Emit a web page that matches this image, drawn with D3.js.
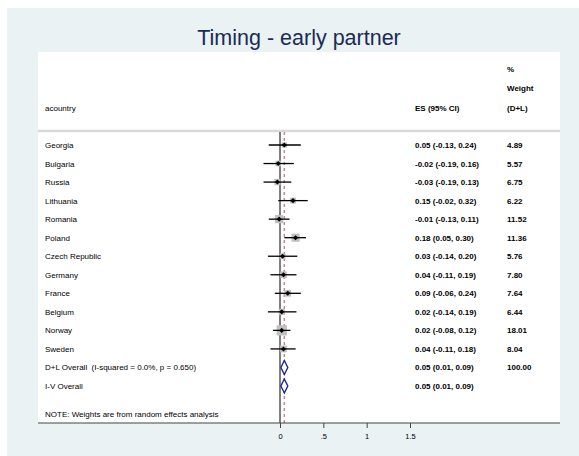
<!DOCTYPE html>
<html><head><meta charset="utf-8">
<script src="https://cdn.jsdelivr.net/npm/d3@7"></script>
<style>body{margin:0;background:#fff}svg{display:block;font-family:"Liberation Sans",Arial,sans-serif}</style>
</head><body>
<script>
const countries = ["Georgia","Bulgaria","Russia","Lithuania","Romania","Poland","Czech Republic","Germany","France","Belgium","Norway","Sweden"];
const es    = [0.05,-0.02,-0.03,0.15,-0.01,0.18,0.03,0.04,0.09,0.02,0.02,0.04];
const lower = [-0.13,-0.19,-0.19,-0.02,-0.13,0.05,-0.14,-0.11,-0.06,-0.14,-0.08,-0.11];
const upper = [0.24,0.16,0.13,0.32,0.11,0.30,0.20,0.19,0.24,0.19,0.12,0.18];
const weights = ["4.89","5.57","6.75","6.22","11.52","11.36","5.76","7.80","7.64","6.44","18.01","8.04"];
const overallLabels = ["D+L Overall  (I-squared = 0.0%, p = 0.650)","I-V Overall"];
const overallES = [0.05,0.05];
const overallLo = [0.01,0.01];
const overallHi = [0.09,0.09];
const overallW = ["100.00",""];
const xTicks = [0,0.5,1,1.5];
const xTickLabels = ["0",".5","1","1.5"];
const title = "Timing - early partner";
const note = "NOTE: Weights are from random effects analysis";

const W=579,H=456;
const svg=d3.select("body").append("svg").attr("width",W).attr("height",H);
svg.append("rect").attr("x",7).attr("y",8).attr("width",W-7).attr("height",H-8).attr("fill","#eaf2f3");
const pl=38,pr=560,pt=52,pb=423;
svg.append("rect").attr("x",pl).attr("y",pt).attr("width",pr-pl).attr("height",pb-pt).attr("fill","#fff");

svg.append("text").attr("x",299).attr("y",45).attr("text-anchor","middle").attr("font-size",21.5).attr("fill","#1c2b55").text(title);

const x=d3.scaleLinear().domain([0,1.5]).range([280,410]);
const nRows=countries.length+overallLabels.length;
const y=d3.scalePoint().domain(d3.range(nRows)).range([145,386]);

const labX=45, esX=415, wX=507, fs=8;
const hdr=svg.append("g").attr("font-size",fs);
hdr.append("text").attr("x",labX).attr("y",111).text("acountry");
hdr.append("text").attr("x",esX).attr("y",111).attr("font-weight","bold").text("ES (95% CI)");
hdr.append("text").attr("x",wX).attr("y",72).attr("font-weight","bold").text("%");
hdr.append("text").attr("x",wX).attr("y",91).attr("font-weight","bold").text("Weight");
hdr.append("text").attr("x",wX).attr("y",111).attr("font-weight","bold").text("(D+L)");
svg.append("line").attr("x1",pl).attr("x2",pr).attr("y1",131).attr("y2",131).attr("stroke","#d9d9d9").attr("stroke-width",2.5);

svg.append("line").attr("x1",x(0)).attr("x2",x(0)).attr("y1",132).attr("y2",pb).attr("stroke","#000").attr("stroke-width",1);
svg.append("line").attr("x1",x(overallES[0])).attr("x2",x(overallES[0])).attr("y1",132).attr("y2",pb)
  .attr("stroke","#c28890").attr("stroke-width",1.5).attr("stroke-dasharray","3,3");

const f2=d3.format(".2f");
const fmt=v=>f2(v).replace("\u2212","-");
const rows=countries.map((c,i)=>({c,es:es[i],lo:lower[i],hi:upper[i],w:weights[i],i}));
const g=svg.append("g");
rows.forEach(d=>{
  const yy=y(d.i);
  const s=2.4*Math.sqrt(+d.w);
  g.append("rect").attr("x",x(d.es)-s/2).attr("y",yy-s/2).attr("width",s).attr("height",s).attr("fill","#bfbfbf");
  g.append("line").attr("x1",x(d.lo)).attr("x2",x(d.hi)).attr("y1",yy).attr("y2",yy).attr("stroke","#000").attr("stroke-width",1.3);
  g.append("rect").attr("x",x(d.es)-1.8).attr("y",yy-1.8).attr("width",3.6).attr("height",3.6).attr("fill","#000").attr("transform",`rotate(45,${x(d.es)},${yy})`);
  g.append("text").attr("x",labX).attr("y",yy+3).attr("font-size",fs).text(d.c);
  g.append("text").attr("x",esX).attr("y",yy+3).attr("font-size",fs).attr("font-weight","bold").text(`${fmt(d.es)} (${fmt(d.lo)}, ${fmt(d.hi)})`);
  g.append("text").attr("x",wX).attr("y",yy+3).attr("font-size",fs).attr("font-weight","bold").text(d.w);
});
overallLabels.forEach((lab,k)=>{
  const yy=y(countries.length+k);
  const pts=[[x(overallLo[k]),yy],[x(overallES[k]),yy-7],[x(overallHi[k]),yy],[x(overallES[k]),yy+7]];
  g.append("polygon").attr("points",pts.map(p=>p.join(",")).join(" ")).attr("fill","#fff").attr("stroke","#1f2590").attr("stroke-width",1.4);
  g.append("text").attr("x",labX).attr("y",yy+3).attr("font-size",fs).attr("xml:space","preserve").style("white-space","pre").text(lab);
  g.append("text").attr("x",esX).attr("y",yy+3).attr("font-size",fs).attr("font-weight","bold").text(`${fmt(overallES[k])} (${fmt(overallLo[k])}, ${fmt(overallHi[k])})`);
  if(overallW[k]) g.append("text").attr("x",wX).attr("y",yy+3).attr("font-size",fs).attr("font-weight","bold").text(overallW[k]);
});
svg.append("text").attr("x",labX).attr("y",417).attr("font-size",fs).text(note);

svg.append("line").attr("x1",pl).attr("x2",pr).attr("y1",pb).attr("y2",pb).attr("stroke","#444").attr("stroke-width",1.2);
const ax=d3.axisBottom(x).tickValues(xTicks).tickFormat((d,i)=>xTickLabels[i]).tickSize(5).tickPadding(6);
const axg=svg.append("g").attr("transform",`translate(0,${pb})`).call(ax);
axg.select(".domain").remove();
axg.selectAll(".tick line").attr("stroke","#444");
axg.selectAll(".tick text").attr("font-size",7.5).attr("font-family","Liberation Sans, Arial, sans-serif").attr("fill","#000");
</script>
</body></html>
